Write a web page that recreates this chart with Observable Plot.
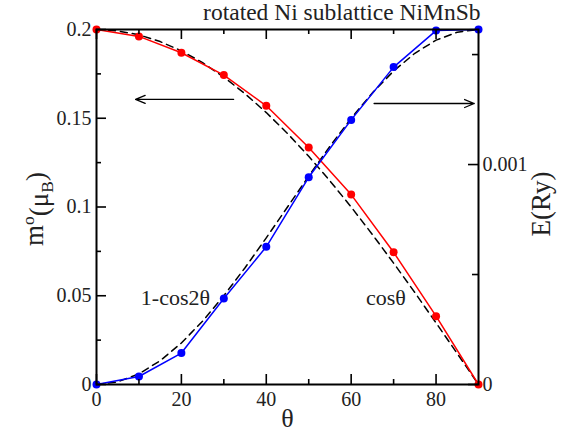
<!DOCTYPE html>
<html><head><meta charset="utf-8">
<script src="https://cdn.jsdelivr.net/npm/d3@7"></script>
<script src="https://cdn.jsdelivr.net/npm/@observablehq/plot@0.6"></script>
<style>
body{margin:0;background:#fff}
#chart svg, #chart svg text, #chart svg tspan { font-family: "Liberation Serif", "Times New Roman", serif !important; }
</style>
</head><body><div id="chart"></div>
<script>
// angle theta (degrees)
const theta = [0, 10, 20, 30, 40, 50, 60, 70, 80, 90];
// orbital moment m° (μB), red, left axis
const orbMoment = [0.2, 0.1961, 0.1869, 0.1743, 0.1570, 0.1335, 0.1070, 0.0745, 0.0385, 0];
// energy E (Ry), blue, right axis
const energyRy = [0, 0.0000363, 0.000143, 0.000391, 0.000626, 0.000942, 0.001203, 0.001443, 0.001609, 0.001614];
// dashed reference curves (5° steps)
const thetaFine = [0, 5, 10, 15, 20, 25, 30, 35, 40, 45, 50, 55, 60, 65, 70, 75, 80, 85, 90];
const cosCurve = [0.2, 0.1992, 0.197, 0.1932, 0.188, 0.1813, 0.1732, 0.1638, 0.1532, 0.1414, 0.1286, 0.1147, 0.1, 0.0845, 0.0684, 0.0518, 0.0347, 0.0174, 0];
const cos2Curve = [0, 0.0015, 0.006, 0.0134, 0.0234, 0.0357, 0.05, 0.0658, 0.0826, 0.1, 0.1174, 0.1342, 0.15, 0.1643, 0.1766, 0.1866, 0.194, 0.1985, 0.2];
// axis ticks
const xMajor = [0, 20, 40, 60, 80];
const xMinor = [10, 30, 50, 70];
const yMajor = [0, 0.05, 0.1, 0.15, 0.2];
const yMinor = [0.025, 0.075, 0.125, 0.175];
const eMax = 0.001614;          // top of the right axis (Ry)
const eMajor = [0, 0.001];
const eMinor = [0.0005, 0.0015];
// annotations
const curveLabels = ["1-cos2θ", "cosθ"];
const curveLabelX = [18.6, 68.2];
const curveLabelY = [0.049, 0.049];
const arrowX1 = [32.3, 65.4];
const arrowX2 = [9.2, 89.0];
const arrowY = [0.1606, 0.1583];
const title = "rotated Ni sublattice NiMnSb";

const W = 570, H = 433, mL = 96, mR = 92, mT = 29, mB = 49;
const fw = W - mL - mR, fh = H - mT - mB;
const xDom = [0, 90], yDom = [0, 0.2];
// tick lengths (px) expressed in scale units
const dxPx = px => px / fw * (xDom[1] - xDom[0]);
const dyPx = px => px / fh * (yDom[1] - yDom[0]);
const FONT = "Liberation Serif";
const toLeft = e => e / eMax * 0.2;
const red = theta.map((t, i) => ({t, v: orbMoment[i]}));
const blue = theta.map((t, i) => ({t, v: toLeft(energyRy[i])}));
const fitCos = thetaFine.map((t, i) => ({t, v: cosCurve[i]}));
const fitCos2 = thetaFine.map((t, i) => ({t, v: cos2Curve[i]}));
const labels = curveLabels.map((s, i) => ({s, x: curveLabelX[i], y: curveLabelY[i]}));
const arrows = arrowX1.map((x1, i) => ({x1, x2: arrowX2[i], y: arrowY[i]}));

const tk = {stroke: "black", strokeWidth: 1.6};
const txt = {fill: "#222", fontFamily: FONT};
const plot = Plot.plot({
  width: W, height: H,
  marginLeft: mL, marginRight: mR, marginTop: mT, marginBottom: mB,
  style: {fontFamily: FONT, fontSize: "20px", background: "white"},
  x: {domain: xDom, axis: null},
  y: {domain: yDom, axis: null},
  marks: [
    Plot.line(fitCos, {x: "t", y: "v", stroke: "black", strokeWidth: 1.5, strokeDasharray: "7,5"}),
    Plot.line(fitCos2, {x: "t", y: "v", stroke: "black", strokeWidth: 1.5, strokeDasharray: "7,5"}),
    Plot.line(red, {x: "t", y: "v", stroke: "#ff0000", strokeWidth: 1.5}),
    Plot.line(blue, {x: "t", y: "v", stroke: "#0000ff", strokeWidth: 1.5}),
    Plot.dot(red, {x: "t", y: "v", fill: "#ff0000", r: 4}),
    Plot.dot(blue, {x: "t", y: "v", fill: "#0000ff", r: 4}),
    Plot.arrow(arrows, {x1: "x1", x2: "x2", y1: "y", y2: "y", stroke: "black", strokeWidth: 1.3, headLength: 12, headAngle: 45}),
    Plot.text(labels, {x: "x", y: "y", text: "s", fontSize: 22, ...txt}),
    // inward ticks
    Plot.ruleX(xMajor, {x: d => d, y1: yDom[0], y2: yDom[0] + dyPx(10), ...tk}),
    Plot.ruleX(xMinor, {x: d => d, y1: yDom[0], y2: yDom[0] + dyPx(5), ...tk}),
    Plot.ruleX(xMajor, {x: d => d, y1: yDom[1], y2: yDom[1] - dyPx(10), ...tk}),
    Plot.ruleX(xMinor, {x: d => d, y1: yDom[1], y2: yDom[1] - dyPx(5), ...tk}),
    Plot.ruleY(yMajor, {y: d => d, x1: xDom[0], x2: xDom[0] + dxPx(10), ...tk}),
    Plot.ruleY(yMinor, {y: d => d, x1: xDom[0], x2: xDom[0] + dxPx(5), ...tk}),
    Plot.ruleY(eMajor.map(toLeft), {y: d => d, x1: xDom[1], x2: xDom[1] - dxPx(10), ...tk}),
    Plot.ruleY(eMinor.map(toLeft), {y: d => d, x1: xDom[1], x2: xDom[1] - dxPx(6), ...tk}),
    // tick labels
    Plot.axisX(xMajor, {anchor: "bottom", tickSize: 0, tickPadding: 7, tickFormat: d => String(d), label: null, ...txt}),
    Plot.axisY(yMajor, {anchor: "left", tickSize: 0, tickPadding: 5, tickFormat: d => String(d), label: null, ...txt}),
    Plot.axisY(eMajor.map(toLeft), {anchor: "right", tickSize: 0, tickPadding: 4, tickFormat: d => String(+(d * eMax / 0.2).toFixed(4)), label: null, ...txt}),
    Plot.frame({stroke: "black", strokeWidth: 2}),
    // axis titles and title
    Plot.text(["m°(μB)"], {frameAnchor: "left", textAnchor: "middle", lineAnchor: "middle", dx: -62, dy: 2, rotate: -90, fontSize: 27, ...txt}),
    Plot.text(["E(Ry)"], {frameAnchor: "right", textAnchor: "middle", lineAnchor: "middle", dx: 63, dy: -3, rotate: -90, fontSize: 27, ...txt}),
    Plot.text(["θ"], {frameAnchor: "bottom", lineAnchor: "middle", dy: 34, fontSize: 26, ...txt}),
    Plot.text([title], {frameAnchor: "top-right", textAnchor: "end", lineAnchor: "middle", dy: -17, dx: 2, fontSize: 23.5, ...txt})
  ]
});
document.getElementById("chart").appendChild(plot);

// superscript / subscript for the left axis title
d3.select(plot).selectAll("text").filter(function() { return this.textContent === "m°(μB)"; })
  .each(function() {
    const t = d3.select(this);
    t.text(null);
    t.append("tspan").text("m");
    t.append("tspan").attr("dy", "-0.5em").attr("font-size", "65%").text("o");
    t.append("tspan").attr("dy", "0.5em").text("(μ");
    t.append("tspan").attr("dy", "0.3em").attr("font-size", "65%").text("B");
    t.append("tspan").attr("dy", "-0.3em").text(")");
  });
</script>
</body></html>
